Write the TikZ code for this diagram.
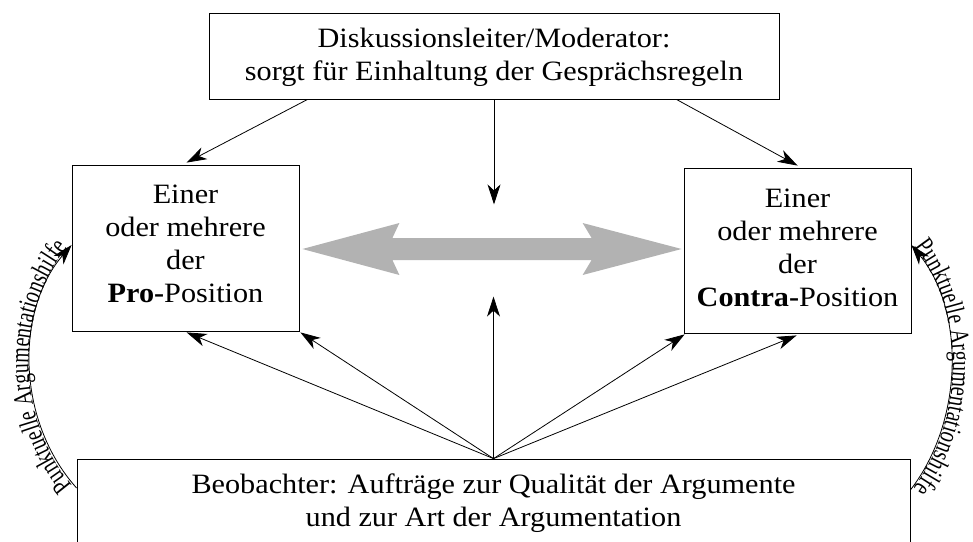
\documentclass[tikz,border=0pt]{standalone}
\usepackage{fontspec}
\setmainfont[FakeStretch=1.08]{Liberation Serif}
\newfontfamily\condfont[FakeStretch=0.74]{Liberation Serif}
\usetikzlibrary{arrows.meta,decorations.text,calc}
\begin{document}
\begin{tikzpicture}[x=1pt,y=-1pt,
  box/.style={draw=black, line width=0.8pt, inner sep=0pt},
  txt/.style={align=center, inner sep=0pt, font=\fontsize{28}{33}\selectfont},
  arr/.style={line width=0.8pt, -{Stealth[length=20pt,width=13pt,inset=6pt]}},
  rarr/.style={line width=0.8pt, {Stealth[length=20pt,width=13pt,inset=6pt]}-},
  hilfe/.style={postaction={decorate, decoration={text along path,
    text={|\condfont\fontsize{27}{27}\selectfont|Punktuelle Argumentationshilfe},
    text align={center}, raise=1.5pt}}},
  grey/.style={fill=black!30, draw=none},
]
\useasboundingbox (0,0) rectangle (973,541);

\node[box, minimum width=570pt, minimum height=86pt] (top) at (494,56) {};
\node[txt] (toptxt) at ($(top.center)+(0,1)$)
  {Diskussionsleiter/Moderator:\\sorgt für Einhaltung der Gesprächsregeln};
\node[box, minimum width=227pt, minimum height=166pt] (L) at (185.5,248) {};
\node[txt] (Ltxt) at ($(L.center)+(0,-4)$)
  {Einer\\oder mehrere\\der\\\textbf{Pro-}Position};
\node[box, minimum width=227pt, minimum height=165pt] (R) at (797.5,250.5) {};
\node[txt] (Rtxt) at ($(R.center)+(0,-3)$)
  {Einer\\oder mehrere\\der\\\textbf{Contra-}Position};
\node[box, minimum width=833pt, minimum height=88pt] (B) at (493.5,503) {};
\node[txt] (Btxt) at ($(B.center)+(0,0)$)
  {Beobachter: Aufträge zur Qualität der Argumente\\und zur Art der Argumentation};

% grey double arrow
\coordinate (ga) at ($(L.east)+(3,1)$);
\coordinate (gb) at ($(R.west)+(-2,-1.5)$);
\fill[grey] (ga) -- ++(97,-26) -- ++(-7,15) -- ($(gb)+(-90,-11)$) -- ($(gb)+(-99,-26)$)
  -- (gb) -- ($(gb)+(-99,26)$) -- ($(gb)+(-90,11)$) -- ($(ga)+(90,11)$)
  -- ($(ga)+(97,26)$) -- cycle;

% arrows from moderator
\draw[arr] ($(top.south west)+(99,0)$) -- ($(L.north west)+(115,-2)$);
\draw[arr] ($(top.south east)+(-103,0)$) -- ($(R.north west)+(114,-2)$);
\draw[arr] (top.south) -- ($(top.south)+(0,105)$);

% arrows from observer
\draw[arr] (B.north) -- ($(B.north)+(0,-162)$);
\draw[arr] (B.north) -- ($(L.south west)+(115,1)$);
\draw[arr] (B.north) -- ($(L.south east)+(1,1)$);
\draw[arr] (B.north) -- ($(R.south west)+(1,1)$);
\draw[arr] (B.north) -- ($(R.south west)+(113,2)$);

% curved arrows
\coordinate (lt) at ($(L.west)+(0,-3)$);
\coordinate (lb) at ($(B.west)+(0,-15)$);
\coordinate (rt) at ($(R.east)+(0,-5.5)$);
\coordinate (rb) at ($(B.east)+(0,-13)$);
\draw[arr, hilfe] (lb) .. controls ($(lb)+(-61,-68)$) and ($(lt)+(-56,65)$) .. (lt);
\draw[rarr, hilfe] (rt) .. controls ($(rt)+(53,65)$) and ($(rb)+(54,-70)$) .. (rb);
\end{tikzpicture}
\end{document}
